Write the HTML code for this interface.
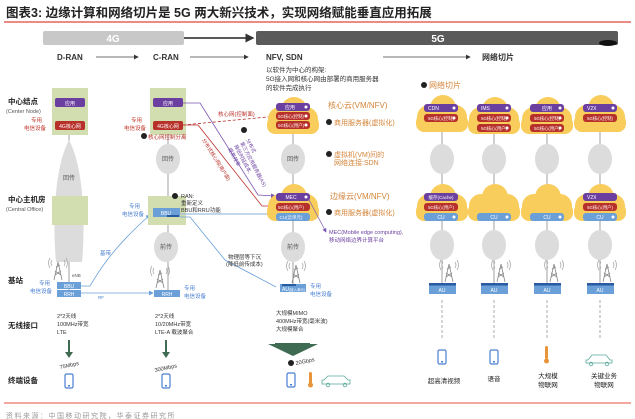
<!DOCTYPE html>
<html><head><meta charset="utf-8">
<style>
html,body{margin:0;padding:0;background:#fff;}
svg{display:block;}
text{font-family:"Liberation Sans","Noto Sans CJK SC",sans-serif;}
</style></head><body>
<svg width="635" height="419" viewBox="0 0 635 419" xmlns="http://www.w3.org/2000/svg">
<defs>
<marker id="ah" markerWidth="6" markerHeight="6" refX="5" refY="3" orient="auto"><path d="M0,0 L6,3 L0,6z" fill="#333"/></marker>
<marker id="ap" markerWidth="6" markerHeight="6" refX="5" refY="3" orient="auto"><path d="M0,0 L6,3 L0,6z" fill="#7a55b0"/></marker>
<marker id="ar" markerWidth="6" markerHeight="6" refX="5" refY="3" orient="auto"><path d="M0,0 L6,3 L0,6z" fill="#b8302a"/></marker>
<marker id="ab" markerWidth="6" markerHeight="6" refX="5" refY="3" orient="auto"><path d="M0,0 L6,3 L0,6z" fill="#6a9fd8"/></marker>
<g id="cloud"><circle cx="-12" cy="3" r="12"/><circle cx="2" cy="-6" r="13"/><circle cx="14" cy="3" r="12"/><rect x="-25" y="0" width="52" height="18" rx="8"/></g>
<g id="tower" stroke="#888" stroke-width="0.8" fill="none"><path d="M0,-18 L-4,0 M0,-18 L4,0 M-3,-5 L3,-9 M-3,-9 L3,-5 M-2,-13 L2,-15"/><path d="M-6,-20 q-2,3 0,6 M6,-20 q2,3 0,6 M-8,-22 q-3,5 0,10 M8,-22 q3,5 0,10" stroke="#aaa"/></g>
<g id="phone"><rect x="-4" y="-7" width="8" height="14" rx="1.5" fill="none" stroke="#4a7fd0" stroke-width="1.2"/><rect x="-1" y="4" width="2" height="1.5" fill="#4a7fd0"/></g>
</defs>

<!-- title -->
<text x="6" y="17" font-size="12.5" font-weight="bold" fill="#222">图表3:   边缘计算和网络切片是 5G 两大新兴技术，实现网络赋能垂直应用拓展</text>
<line x1="4" y1="22" x2="631" y2="22" stroke="#e0463b" stroke-width="1.3"/>

<!-- 4G/5G bars -->
<rect x="43" y="31" width="141" height="14" rx="2" fill="#c8c8c8"/>
<text x="113" y="42" font-size="10" fill="#fff" text-anchor="middle" font-weight="bold">4G</text>
<line x1="184" y1="38" x2="253" y2="38" stroke="#222" stroke-width="1.5" marker-end="url(#ah)"/>
<rect x="256" y="31" width="362" height="14" rx="2" fill="#5a5a5a"/>
<text x="438" y="42" font-size="10" fill="#fff" text-anchor="middle" font-weight="bold">5G</text>
<ellipse cx="608" cy="43" rx="9" ry="3" fill="#111"/>

<text x="57" y="60" font-size="8" font-weight="bold" fill="#333">D-RAN</text>
<line x1="96" y1="57" x2="138" y2="57" stroke="#444" stroke-width="0.8" marker-end="url(#ah)"/>
<text x="153" y="60" font-size="8" font-weight="bold" fill="#333">C-RAN</text>
<line x1="190" y1="57" x2="248" y2="57" stroke="#444" stroke-width="0.8" marker-end="url(#ah)"/>
<text x="266" y="60" font-size="8" font-weight="bold" fill="#333">NFV, SDN</text>
<line x1="383" y1="57" x2="470" y2="57" stroke="#444" stroke-width="0.8" marker-end="url(#ah)"/>
<text x="482" y="60" font-size="8" font-weight="bold" fill="#333">网络切片</text>
<text x="266" y="72" font-size="6.5" fill="#333">以软件为中心的构架:</text>
<text x="266" y="81" font-size="6.5" fill="#333">5G接入网和核心网由部署的商用服务器</text>
<text x="266" y="90" font-size="6.5" fill="#333">的软件完成执行</text>

<!-- row labels -->
<text x="8" y="104" font-size="7.5" font-weight="bold" fill="#222">中心结点</text>
<text x="6" y="113" font-size="5.5" fill="#555">(Center Node)</text>
<text x="8" y="202" font-size="7.5" font-weight="bold" fill="#222">中心主机房</text>
<text x="6" y="211" font-size="5.5" fill="#555">(Central Office)</text>
<text x="8" y="283" font-size="7.5" font-weight="bold" fill="#222">基站</text>
<text x="8" y="328" font-size="7.5" font-weight="bold" fill="#222">无线接口</text>
<text x="8" y="383" font-size="7.5" font-weight="bold" fill="#222">终端设备</text>

<!-- D-RAN column -->
<line x1="69" y1="130" x2="69" y2="290" stroke="#888" stroke-width="0.8"/>
<path d="M69,140 C85,170 85,230 82,262 L56,262 C53,230 53,170 69,140z" fill="#dcdcdc"/>
<text x="69" y="180" font-size="6" fill="#555" text-anchor="middle">回传</text>
<rect x="52" y="88" width="36" height="47" fill="#d2ddb0"/>
<rect x="55" y="98" width="30" height="9" rx="2" fill="#6b3fa0"/><text x="70" y="105" font-size="5" fill="#fff" text-anchor="middle">应用</text>
<rect x="55" y="121" width="30" height="9" rx="2" fill="#b8302a"/><text x="70" y="128" font-size="5" fill="#fff" text-anchor="middle">4G核心网</text>
<text x="42" y="122" font-size="5.5" fill="#c0392b" text-anchor="end">专用</text>
<text x="46" y="130" font-size="5.5" fill="#c0392b" text-anchor="end">电信设备</text>
<rect x="52" y="196" width="36" height="29" fill="#d2ddb0"/>
<use href="#tower" x="58" y="280"/>
<text x="72" y="277" font-size="4.5" fill="#555">eNB</text>
<rect x="57" y="282" width="24" height="7" fill="#6a9fd8"/><text x="69" y="288" font-size="5" fill="#fff" text-anchor="middle">BBU</text>
<rect x="57" y="290" width="24" height="7" fill="#6a9fd8"/><text x="69" y="296" font-size="5" fill="#fff" text-anchor="middle">RRH</text>
<text x="50" y="285" font-size="5.5" fill="#4a7fd0" text-anchor="end">专用</text>
<text x="52" y="293" font-size="5.5" fill="#4a7fd0" text-anchor="end">电信设备</text>
<line x1="81" y1="293" x2="153" y2="293" stroke="#6a9fd8" stroke-width="0.8" marker-end="url(#ab)"/>
<text x="98" y="299" font-size="4.5" fill="#4a7fd0">RF</text>
<path d="M81,286 L90,286 C96,276 110,250 150,215" fill="none" stroke="#6a9fd8" stroke-width="0.8" marker-end="url(#ab)"/>
<text x="100" y="255" font-size="5.5" fill="#4a7fd0">基带</text>
<text x="57" y="318" font-size="5.5" fill="#333">2*2天线</text>
<text x="57" y="326" font-size="5.5" fill="#333">100MHz带宽</text>
<text x="57" y="334" font-size="5.5" fill="#333">LTE</text>
<line x1="69" y1="340" x2="69" y2="355" stroke="#3f6b52" stroke-width="2"/><path d="M65,352 L73,352 L69,358z" fill="#3f6b52"/>
<text x="60" y="369" font-size="5.5" fill="#333" transform="rotate(-12 60 369)">75Mbps</text>
<use href="#phone" x="69" y="381"/>

<!-- C-RAN column -->
<line x1="168" y1="130" x2="168" y2="295" stroke="#888" stroke-width="0.8"/>
<rect x="150" y="88" width="36" height="47" fill="#d2ddb0"/>
<rect x="153" y="98" width="30" height="9" rx="2" fill="#6b3fa0"/><text x="168" y="105" font-size="5" fill="#fff" text-anchor="middle">应用</text>
<rect x="153" y="121" width="30" height="9" rx="2" fill="#b8302a"/><text x="168" y="128" font-size="5" fill="#fff" text-anchor="middle">4G核心网</text>
<text x="142" y="122" font-size="5.5" fill="#c0392b" text-anchor="end">专用</text>
<text x="146" y="130" font-size="5.5" fill="#c0392b" text-anchor="end">电信设备</text>
<circle cx="144" cy="136" r="3" fill="#222"/><text x="148" y="139" font-size="5.5" fill="#b8302a">核心网控制分离</text>
<ellipse cx="168" cy="159" rx="12" ry="15" fill="#dcdcdc"/><text x="168" y="161" font-size="6" fill="#555" text-anchor="middle">回传</text>
<rect x="148" y="196" width="38" height="29" fill="#d2ddb0"/>
<rect x="153" y="208" width="27" height="9" fill="#6a9fd8"/><text x="166" y="215" font-size="5" fill="#fff" text-anchor="middle">BBU</text>
<rect x="167" y="215" width="12" height="2" fill="#2a5aa0"/>
<text x="140" y="208" font-size="5.5" fill="#4a7fd0" text-anchor="end">专用</text>
<text x="144" y="216" font-size="5.5" fill="#4a7fd0" text-anchor="end">电信设备</text>
<circle cx="175" cy="196" r="3" fill="#222"/>
<text x="181" y="198" font-size="5.5" fill="#333">RAN:</text>
<text x="181" y="205" font-size="5.5" fill="#333">重新定义</text>
<text x="181" y="212" font-size="5.5" fill="#333">BBU和RRU功能</text>
<ellipse cx="166" cy="247" rx="12" ry="15" fill="#dcdcdc"/><text x="166" y="249" font-size="6" fill="#555" text-anchor="middle">前传</text>
<use href="#tower" x="160" y="288"/>
<rect x="154" y="290" width="26" height="7" fill="#6a9fd8"/><text x="167" y="296" font-size="5" fill="#fff" text-anchor="middle">RRH</text>
<text x="184" y="290" font-size="5.5" fill="#4a7fd0">专用</text>
<text x="184" y="298" font-size="5.5" fill="#4a7fd0">电信设备</text>
<text x="155" y="318" font-size="5.5" fill="#333">2*2天线</text>
<text x="155" y="326" font-size="5.5" fill="#333">10/20MHz带宽</text>
<text x="155" y="334" font-size="5.5" fill="#333">LTE-A 载波聚合</text>
<line x1="166" y1="340" x2="166" y2="355" stroke="#3f6b52" stroke-width="2"/><path d="M162,352 L170,352 L166,358z" fill="#3f6b52"/>
<text x="155" y="372" font-size="5.5" fill="#333" transform="rotate(-12 155 372)">300Mbps</text>
<use href="#phone" x="166" y="381"/>

<!-- connectors C-RAN to NFV -->
<path d="M183,103 L200,103 L258,195 L275,196" fill="none" stroke="#7a55b0" stroke-width="0.8" marker-end="url(#ap)"/>
<path d="M183,125 L198,125 L262,206 L275,206" fill="none" stroke="#b8302a" stroke-width="0.8" marker-end="url(#ar)"/>
<path d="M183,125 L278,116" fill="none" stroke="#b8302a" stroke-width="0.8" stroke-dasharray="3,2"/>
<text x="218" y="116" font-size="5.5" fill="#b8302a">核心网(控制面)</text>
<text x="202" y="140" font-size="5" fill="#b8302a" transform="rotate(58 202 140)">分布式核心网(用户面)</text>
<circle cx="244" cy="130" r="3" fill="#222"/>
<text x="246" y="140" font-size="5" fill="#6b3fa0" transform="rotate(62 246 140)">分布式</text>
<text x="240" y="143" font-size="5" fill="#6b3fa0" transform="rotate(62 240 143)">第三方应用服务器(AS)</text>
<text x="234" y="146" font-size="5" fill="#6b3fa0" transform="rotate(62 234 146)">降低时延成本,</text>
<text x="228" y="149" font-size="5" fill="#6b3fa0" transform="rotate(62 228 149)">提高效率</text>
<line x1="180" y1="214" x2="276" y2="214" stroke="#9ebfe0" stroke-width="1.2" marker-end="url(#ab)"/>
<path d="M180,217 L190,217 L225,260 L276,287" fill="none" stroke="#6a9fd8" stroke-width="0.8"/>
<text x="228" y="259" font-size="5.5" fill="#333">物理层等下沉</text>
<text x="226" y="266" font-size="5.5" fill="#333">(降低前传成本)</text>

<!-- NFV column -->
<line x1="293" y1="120" x2="293" y2="292" stroke="#888" stroke-width="0.8"/>
<g fill="#f9cd5c"><use href="#cloud" x="292" y="116"/><use href="#cloud" x="292" y="203"/></g>
<rect x="276" y="103" width="34" height="8" rx="3" fill="#6b3fa0"/><text x="290" y="109" font-size="5" fill="#fff" text-anchor="middle">应用</text>
<rect x="276" y="112" width="34" height="8" rx="3" fill="#b8302a"/><text x="291" y="118" font-size="4.3" fill="#fff" text-anchor="middle">5G核心(控制)</text>
<rect x="276" y="121" width="34" height="8" rx="3" fill="#b8302a"/><text x="291" y="127" font-size="4.3" fill="#fff" text-anchor="middle">5G核心(用户)</text>
<ellipse cx="293" cy="159" rx="12" ry="15" fill="#dcdcdc"/><text x="293" y="161" font-size="6" fill="#555" text-anchor="middle">回传</text>
<rect x="276" y="193" width="34" height="8" rx="3" fill="#6b3fa0"/><text x="291" y="199" font-size="5" fill="#fff" text-anchor="middle">MEC</text>
<rect x="276" y="203" width="34" height="8" rx="3" fill="#b8302a"/><text x="291" y="209" font-size="4.3" fill="#fff" text-anchor="middle">5G核心(用户)</text>
<rect x="276" y="213" width="34" height="8" rx="3" fill="#6a9fd8"/><text x="291" y="219" font-size="4.5" fill="#fff" text-anchor="middle">CU(云单元)</text>
<line x1="308" y1="198" x2="326" y2="232" stroke="#7a55b0" stroke-width="0.7" marker-end="url(#ap)"/>
<ellipse cx="293" cy="247" rx="12" ry="15" fill="#dcdcdc"/><text x="293" y="249" font-size="6" fill="#555" text-anchor="middle">前传</text>
<use href="#tower" x="296" y="283"/>
<rect x="280" y="284" width="26" height="8" fill="#6a9fd8"/><rect x="282" y="284" width="14" height="2" fill="#2a5aa0"/>
<text x="282" y="291" font-size="5" fill="#fff">AU<tspan font-size="3.5">(接入单元)</tspan></text>
<text x="310" y="288" font-size="5.5" fill="#4a7fd0">专用</text>
<text x="310" y="296" font-size="5.5" fill="#4a7fd0">电信设备</text>
<text x="328" y="108" font-size="8" fill="#d4853a">核心云(VM/NFV)</text>
<circle cx="329" cy="122" r="3" fill="#222"/><text x="334" y="125" font-size="7" fill="#d4853a">商用服务器(虚拟化)</text>
<circle cx="329" cy="154" r="3" fill="#222"/><text x="334" y="157" font-size="7" fill="#d4853a">虚拟机(VM)间的</text>
<text x="334" y="165" font-size="7" fill="#d4853a">网络连接:SDN</text>
<text x="330" y="199" font-size="8" fill="#d4853a">边缘云(VM/NFV)</text>
<circle cx="329" cy="212" r="3" fill="#222"/><text x="334" y="215" font-size="7" fill="#d4853a">商用服务器(虚拟化)</text>
<text x="329" y="234" font-size="5.5" fill="#6b3fa0">MEC(Mobile edge computing),</text>
<text x="329" y="242" font-size="5.5" fill="#6b3fa0">移动网络边界计算平台</text>
<text x="276" y="315" font-size="5.5" fill="#333">大规模MIMO</text>
<text x="276" y="323" font-size="5.5" fill="#333">400MHz带宽(毫米波)</text>
<text x="276" y="331" font-size="5.5" fill="#333">大规模聚合</text>
<path d="M275,343 L310,343 L310,344 L318,344 L293,356 L268,344 L275,344z" fill="#3f6b52"/>
<circle cx="291" cy="363" r="3" fill="#222"/><text x="296" y="365" font-size="5.5" fill="#333" transform="rotate(-12 296 365)">20Gbps</text>
<use href="#phone" x="291" y="380"/>
<rect x="309" y="372" width="3" height="12" rx="1.5" fill="#e8943a"/><circle cx="310.5" cy="385" r="2.5" fill="#e8943a"/>
<path d="M324,380 L328,376 L344,376 L348,380 L350,380 L350,384 L322,384 L322,380z" fill="none" stroke="#5aa89a" stroke-width="0.8"/>
<circle cx="328" cy="385" r="1.8" fill="none" stroke="#5aa89a" stroke-width="0.8"/><circle cx="345" cy="385" r="1.8" fill="none" stroke="#5aa89a" stroke-width="0.8"/>

<!-- network slicing -->
<circle cx="424" cy="85" r="3" fill="#222"/><text x="429" y="88" font-size="8" fill="#d4853a">网络切片</text>
<g>
<g stroke="#888" stroke-width="0.8">
<line x1="442" y1="120" x2="442" y2="283"/><line x1="494" y1="120" x2="494" y2="283"/><line x1="547" y1="120" x2="547" y2="283"/><line x1="600" y1="120" x2="600" y2="283"/>
</g>
<g fill="#f9cd5c">
<use href="#cloud" x="441" y="114"/><use href="#cloud" x="493" y="116"/><use href="#cloud" x="546" y="116"/><use href="#cloud" x="599" y="114"/>
<use href="#cloud" x="441" y="203"/><use href="#cloud" x="493" y="203"/><use href="#cloud" x="546" y="203"/><use href="#cloud" x="599" y="203"/>
</g>
<g fill="#dcdcdc">
<ellipse cx="442" cy="159" rx="12" ry="15"/><ellipse cx="494" cy="159" rx="12" ry="15"/><ellipse cx="547" cy="159" rx="12" ry="15"/><ellipse cx="600" cy="159" rx="12" ry="15"/>
<ellipse cx="442" cy="245" rx="12" ry="15"/><ellipse cx="494" cy="245" rx="12" ry="15"/><ellipse cx="547" cy="245" rx="12" ry="15"/><ellipse cx="600" cy="245" rx="12" ry="15"/>
</g>
<rect x="424" y="104" width="34" height="8" rx="3" fill="#6b3fa0"/><text x="428" y="110" font-size="5" fill="#fff">CDN</text>
<rect x="424" y="114" width="34" height="8" rx="3" fill="#b8302a"/><text x="441" y="120" font-size="4.3" fill="#fff" text-anchor="middle">5G核心(控制)</text>
<rect x="477" y="104" width="34" height="8" rx="3" fill="#6b3fa0"/><text x="481" y="110" font-size="5" fill="#fff">IMS</text>
<rect x="477" y="114" width="34" height="8" rx="3" fill="#b8302a"/><text x="494" y="120" font-size="4.3" fill="#fff" text-anchor="middle">5G核心(控制)</text>
<rect x="477" y="124" width="34" height="8" rx="3" fill="#b8302a"/><text x="494" y="130" font-size="4.3" fill="#fff" text-anchor="middle">5G核心(用户)</text>
<rect x="530" y="104" width="34" height="8" rx="3" fill="#6b3fa0"/><text x="547" y="110" font-size="5" fill="#fff" text-anchor="middle">应用</text>
<rect x="530" y="114" width="34" height="8" rx="3" fill="#b8302a"/><text x="547" y="120" font-size="4.3" fill="#fff" text-anchor="middle">5G核心(控制)</text>
<rect x="530" y="124" width="34" height="8" rx="3" fill="#b8302a"/><text x="547" y="130" font-size="4.3" fill="#fff" text-anchor="middle">5G核心(用户)</text>
<rect x="583" y="104" width="34" height="8" rx="3" fill="#6b3fa0"/><text x="587" y="110" font-size="5" fill="#fff">V2X</text>
<rect x="583" y="114" width="34" height="8" rx="3" fill="#b8302a"/><text x="600" y="120" font-size="4.3" fill="#fff" text-anchor="middle">5G核心(控制)</text>
<rect x="424" y="193" width="34" height="8" rx="3" fill="#6b3fa0"/><text x="441" y="199" font-size="4.5" fill="#fff" text-anchor="middle">缓存(Cache)</text>
<rect x="424" y="203" width="34" height="8" rx="3" fill="#b8302a"/><text x="441" y="209" font-size="4.3" fill="#fff" text-anchor="middle">5G核心(用户)</text>
<rect x="424" y="213" width="34" height="8" rx="3" fill="#6a9fd8"/><text x="441" y="219" font-size="5" fill="#fff" text-anchor="middle">CU</text>
<rect x="477" y="213" width="34" height="8" rx="3" fill="#6a9fd8"/><text x="494" y="219" font-size="5" fill="#fff" text-anchor="middle">CU</text>
<rect x="530" y="213" width="34" height="8" rx="3" fill="#6a9fd8"/><text x="547" y="219" font-size="5" fill="#fff" text-anchor="middle">CU</text>
<rect x="583" y="193" width="34" height="8" rx="3" fill="#6b3fa0"/><text x="587" y="199" font-size="5" fill="#fff">V2X</text>
<rect x="583" y="203" width="34" height="8" rx="3" fill="#b8302a"/><text x="600" y="209" font-size="4.3" fill="#fff" text-anchor="middle">5G核心(用户)</text>
<rect x="583" y="213" width="34" height="8" rx="3" fill="#6a9fd8"/><text x="600" y="219" font-size="5" fill="#fff" text-anchor="middle">CU</text>
<g fill="#fff"><circle cx="454" cy="108" r="1.5"/><circle cx="454" cy="118" r="1.5"/><circle cx="507" cy="108" r="1.5"/><circle cx="507" cy="118" r="1.5"/><circle cx="507" cy="128" r="1.5"/><circle cx="560" cy="108" r="1.5"/><circle cx="560" cy="118" r="1.5"/><circle cx="560" cy="128" r="1.5"/><circle cx="613" cy="108" r="1.5"/><circle cx="454" cy="217" r="1.5"/><circle cx="507" cy="217" r="1.5"/><circle cx="560" cy="217" r="1.5"/><circle cx="613" cy="217" r="1.5"/><circle cx="306" cy="107" r="1.5"/><circle cx="306" cy="116" r="1.5"/><circle cx="306" cy="125" r="1.5"/><circle cx="306" cy="197" r="1.5"/></g>
<use href="#tower" x="449" y="282"/><use href="#tower" x="501" y="282"/><use href="#tower" x="554" y="282"/><use href="#tower" x="607" y="282"/>
<g fill="#6a9fd8"><rect x="429" y="283" width="27" height="11"/><rect x="481" y="283" width="27" height="11"/><rect x="534" y="283" width="27" height="11"/><rect x="587" y="283" width="27" height="11"/></g>
<g fill="#2a5aa0"><rect x="429" y="283" width="27" height="2.5"/><rect x="481" y="283" width="27" height="2.5"/><rect x="534" y="283" width="27" height="2.5"/><rect x="587" y="283" width="27" height="2.5"/></g>
<g font-size="5" fill="#fff" text-anchor="middle"><text x="442" y="292">AU</text><text x="494" y="292">AU</text><text x="547" y="292">AU</text><text x="600" y="292">AU</text></g>
<g stroke="#888" stroke-width="0.7" stroke-dasharray="3,2"><line x1="442" y1="300" x2="442" y2="340"/><line x1="494" y1="300" x2="494" y2="340"/><line x1="547" y1="300" x2="547" y2="340"/><line x1="600" y1="300" x2="600" y2="340"/></g>
<use href="#phone" x="442" y="357"/><use href="#phone" x="494" y="357"/>
<rect x="545" y="346" width="3" height="13" rx="1.5" fill="#e8943a"/><circle cx="546.5" cy="361" r="2.5" fill="#e8943a"/>
<path d="M588,360 L592,355 L606,355 L610,360 L612,360 L612,363 L586,363 L586,360z" fill="none" stroke="#5aa89a" stroke-width="0.8"/>
<circle cx="591" cy="364" r="1.8" fill="none" stroke="#5aa89a" stroke-width="0.8"/><circle cx="607" cy="364" r="1.8" fill="none" stroke="#5aa89a" stroke-width="0.8"/>
<g font-size="6.5" fill="#222" text-anchor="middle"><text x="444" y="383">超高清视频</text><text x="494" y="381">语音</text><text x="548" y="378">大规模</text><text x="548" y="387">物联网</text><text x="604" y="378">关键业务</text><text x="604" y="387">物联网</text></g>
</g>

<!-- footer -->
<line x1="4" y1="403" x2="631" y2="403" stroke="#f08a80" stroke-width="1.5"/>
<text x="6" y="418" font-size="7" fill="#999" letter-spacing="1.5">资料来源：中国移动研究院，华泰证券研究所</text>
</svg>
</body></html>
